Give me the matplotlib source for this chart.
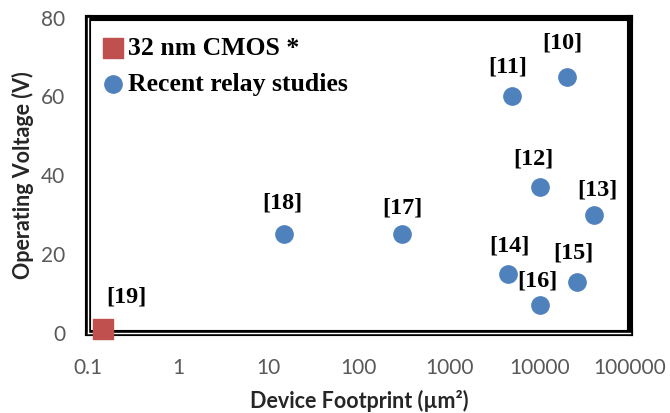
import numpy as np
import matplotlib.pyplot as plt
from matplotlib.lines import Line2D

# Device footprint (um^2) and operating voltage (V)
refs = ['[10]', '[11]', '[12]', '[13]', '[14]', '[15]', '[16]', '[17]', '[18]']
footprint = [20000, 5000, 10000, 40000, 4500, 26000, 10000, 300, 15]
voltage = [65, 60, 37, 30, 15, 13, 7, 25, 25]

cmos_ref = '[19]'
cmos_footprint = [0.15]
cmos_voltage = [1]

xticks = [0.1, 1, 10, 100, 1000, 10000, 100000]
xticklabels = ['0.1', '1', '10', '100', '1000', '10000', '100000']
yticks = [0, 20, 40, 60, 80]

# label offsets from each marker, in pixels
offsets = {'[10]': (-4, 34), '[11]': (-5, 29), '[12]': (-6, 28), '[13]': (3, 25),
           '[14]': (1, 28), '[15]': (-4, 29), '[16]': (-2, 24), '[17]': (0, 26),
           '[18]': (-2, 31), '[19]': (23, 32)}

blue = '#4F81BD'
red = '#C0504D'
serif = 'Liberation Serif'
sans = 'Lato'

fig = plt.figure(figsize=(6.7, 4.13), dpi=100)
ax = fig.add_axes([0.1306, 0.1937, 0.8097, 0.7639])

ax.scatter(cmos_footprint, cmos_voltage, marker='s', s=200, color=red,
           label='32 nm CMOS *', zorder=5, clip_on=False)
ax.scatter(footprint, voltage, marker='o', s=155, color=blue,
           label='Recent relay studies', zorder=4)

for r, x, y in zip(refs + [cmos_ref], footprint + cmos_footprint, voltage + cmos_voltage):
    ax.annotate(r, (x, y), xytext=offsets[r], textcoords='offset pixels',
                ha='center', va='center', fontsize=17.5, fontweight='bold',
                family=serif)

ax.set_xscale('log')
ax.set_xlim(0.1, 100000)
ax.set_ylim(0, 80)
ax.set_xticks(xticks)
ax.set_xticklabels(xticklabels)
ax.set_yticks(yticks)
ax.minorticks_off()
ax.tick_params(axis='both', length=0, labelsize=15, labelcolor='#595959')
ax.tick_params(axis='x', pad=18)
ax.tick_params(axis='y', pad=16)
for lbl in ax.get_xticklabels() + ax.get_yticklabels():
    lbl.set_family(sans)

ax.set_xlabel('Device Footprint (µm²)', fontsize=15.5, fontweight='bold',
              family=sans, color='#262626')
ax.xaxis.set_label_coords(0.5, -0.18)
ax.set_ylabel('Operating Voltage (V)', fontsize=15.5, fontweight='bold',
              family=sans, color='#262626')
ax.yaxis.set_label_coords(-0.098, 0.5)

# heavy frame; left and bottom edges are drawn as a double line
for side in ax.spines.values():
    side.set_linewidth(4.4)
    side.set_color('black')
    side.set_capstyle('projecting')
for xs, ys in [([0, 0], [0, 1]), ([0, 1], [0, 0])]:
    ax.add_line(Line2D(xs, ys, transform=ax.transAxes, color='white',
                       linewidth=1.0, clip_on=False, zorder=3))

ax.legend(loc='upper left', bbox_to_anchor=(-0.006, 0.98), frameon=False,
          prop={'family': serif, 'weight': 'bold', 'size': 18.5},
          handletextpad=0.0, handlelength=1.2, labelspacing=0.5,
          borderaxespad=0.3, borderpad=0.2, scatterpoints=1)

fig.savefig('out.png', dpi=100)
